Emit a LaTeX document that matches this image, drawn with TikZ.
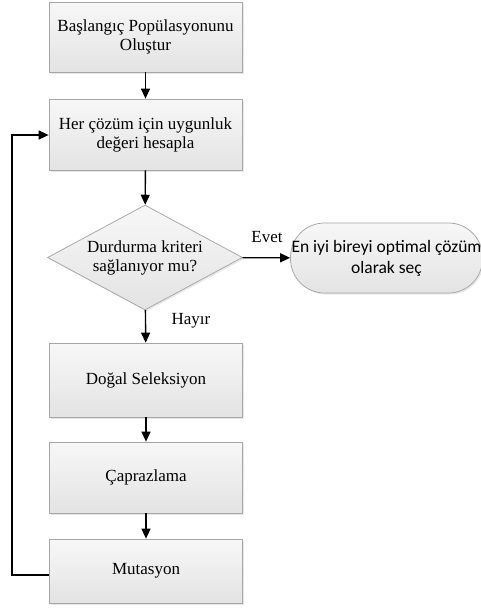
\documentclass[tikz,border=0pt]{standalone}
\usepackage{fontspec}
\setmainfont{Liberation Serif}
\newfontfamily\calibrifont{Carlito}
\usetikzlibrary{shapes.geometric,shadows,arrows.meta}

\tikzset{every picture/.style={line width=0.75pt}}
\tikzset{
  procbox/.style={draw=gray!70, top color=gray!6, bottom color=gray!22,
    drop shadow={shadow xshift=1.5pt, shadow yshift=-1.5pt, fill=gray!35},
    minimum width=193pt, inner sep=1pt, align=center,
    font=\fontsize{17}{19}\selectfont},
  decbox/.style={procbox, diamond, aspect=1.86, minimum width=195pt, minimum height=105pt},
  termbox/.style={procbox, rounded corners=34pt, minimum width=189pt, minimum height=70pt,
    font=\calibrifont\fontsize{17.5}{21}\selectfont},
  flow/.style={-{Triangle[length=10pt,width=9pt]}, line width=1.4pt},
  lbl/.style={font=\fontsize{17}{19}\selectfont}
}

\begin{document}
\begin{tikzpicture}[x=1pt,y=1pt,yscale=-1]
\useasboundingbox (0,0) rectangle (481,614);

% Process boxes
\node [procbox, minimum height=70pt] (init) at (145.5,37) {Başlangıç Popülasyonunu\\Oluştur};
\node [procbox, minimum height=71pt] (fit) at (145.5,134.5) {Her çözüm için uygunluk\\değeri hesapla};
% Decision
\node [decbox] (stop) at (145,257.5) {Durdurma kriteri\\sağlanıyor mu?};
% Terminal
\node [termbox] (best) at (386.5,258) {En iyi bireyi optimal çözüm\\olarak seç};
% Operators
\node [procbox, minimum height=74pt] (sel) at (146,380) {Doğal Seleksiyon};
\node [procbox, minimum height=71pt] (cross) at (146,477.5) {Çaprazlama};
\node [procbox, minimum height=64pt] (mut) at (146,571) {Mutasyon};

% Loop corner
\coordinate (lb) at (12,575);
\coordinate (lt) at (12,135);

% Connectors
\draw [flow] (init) -- (fit);
\draw [flow] (fit) -- (stop);
\draw [flow] (stop) -- (best);
\draw [flow] (stop) -- (sel);
\draw [flow] (sel) -- (cross);
\draw [flow] (cross) -- (mut);
\draw [flow] (mut.west |- lb) -- (lb) -- (lt) -- (fit.west |- lt);

% Text Node
\node [lbl] (yes) at (267,237) {Evet};
% Text Node
\node [lbl] (no) at (191,321) {Hayır};

\end{tikzpicture}
\end{document}
